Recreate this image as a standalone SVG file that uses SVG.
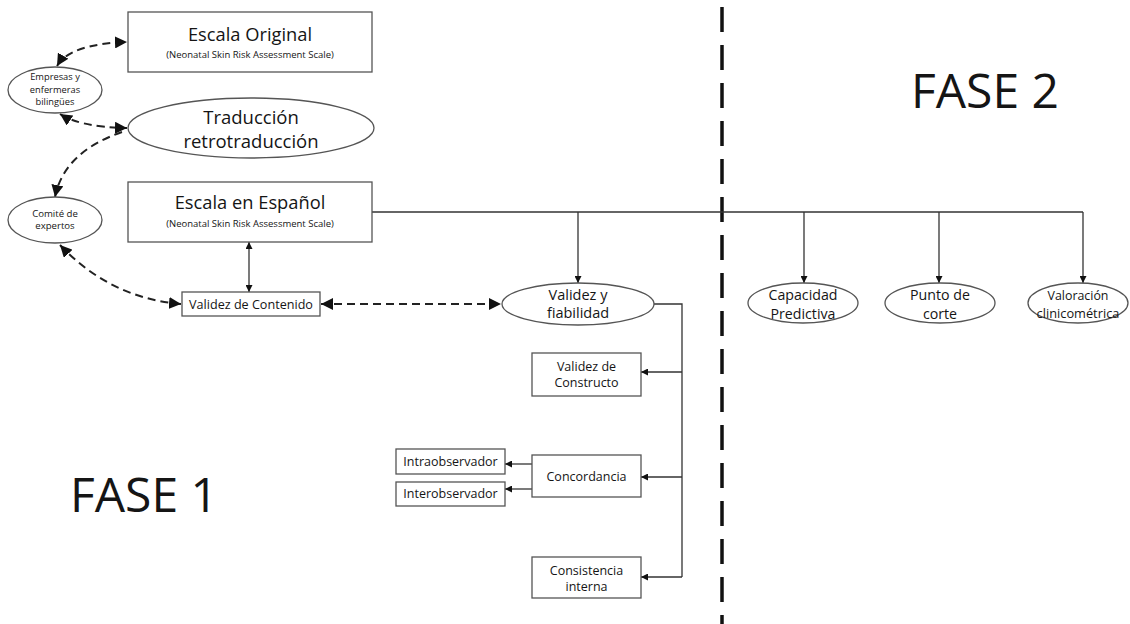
<svg xmlns="http://www.w3.org/2000/svg" width="1130" height="624" viewBox="0 0 1130 624">
<style>
.box{fill:#fff;stroke:#555;stroke-width:1.3}
.t{font-family:"Open Sans","Noto Sans",sans-serif;fill:#151515;text-anchor:middle}
.sol{fill:none;stroke:#333;stroke-width:1.3}
.dash{fill:none;stroke:#222;stroke-width:2;stroke-dasharray:8 5}
</style>
<defs>
<marker id="ah" viewBox="0 0 10 10" refX="10" refY="5" markerWidth="7" markerHeight="7" markerUnits="userSpaceOnUse" orient="auto-start-reverse">
<path d="M0,0 L10,5 L0,10 z" fill="#111"/>
</marker>
<marker id="ahd" viewBox="0 0 10 10" refX="10" refY="5" markerWidth="6" markerHeight="6" orient="auto-start-reverse">
<path d="M0,0 L10,5 L0,10 z" fill="#111"/>
</marker>
</defs>
<rect width="1130" height="624" fill="#fff"/>
<line x1="722" y1="7" x2="722" y2="624" stroke="#111" stroke-width="3.5" stroke-dasharray="25 13"/>
<g id="connectors">
<path class="sol" d="M372 212 H1083"/>
<path class="sol" d="M578 212 V283" marker-end="url(#ah)"/>
<path class="sol" d="M804 212 V283" marker-end="url(#ah)"/>
<path class="sol" d="M939 212 V283" marker-end="url(#ah)"/>
<path class="sol" d="M1083 212 V283" marker-end="url(#ah)"/>
<path class="sol" d="M249 242 V292" marker-start="url(#ah)" marker-end="url(#ah)"/>
<path class="sol" d="M654 304 H682 V577"/>
<path class="sol" d="M682 372 H641" marker-end="url(#ah)"/>
<path class="sol" d="M682 477 H641" marker-end="url(#ah)"/>
<path class="sol" d="M682 577 H641" marker-end="url(#ah)"/>
<path class="sol" d="M532 464 H505" marker-end="url(#ah)"/>
<path class="sol" d="M532 489 H505" marker-end="url(#ah)"/>
<path class="dash" d="M57 66 Q70 44 127 42" marker-start="url(#ahd)" marker-end="url(#ahd)"/>
<path class="dash" d="M60 114 Q80 127 127 128" marker-start="url(#ahd)" marker-end="url(#ahd)"/>
<path class="dash" d="M122 132 Q64 152 55 197" marker-end="url(#ahd)"/>
<path class="dash" d="M60 245 Q110 298 181 304" marker-start="url(#ahd)" marker-end="url(#ahd)"/>
<path class="dash" d="M321 304 H501" marker-start="url(#ahd)" marker-end="url(#ahd)"/>
</g>
<g id="escala-original">
<rect class="box" x="128" y="12" width="244" height="60"/>
<text class="t" x="250" y="41" font-size="18.3">Escala Original</text>
<text class="t" x="250" y="58" font-size="9.5">(Neonatal Skin Risk Assessment Scale)</text>
</g>
<g id="empresas">
<ellipse class="box" cx="55" cy="90" rx="47" ry="23"/>
<text class="t" x="55" y="80" font-size="9.3">Empresas y</text>
<text class="t" x="55" y="93" font-size="9.3">enfermeras</text>
<text class="t" x="55" y="105" font-size="9.3">bilingües</text>
</g>
<g id="traduccion">
<ellipse class="box" cx="251" cy="128" rx="123" ry="30"/>
<text class="t" x="251" y="124" font-size="18.5">Traducción</text>
<text class="t" x="251" y="148" font-size="18.5">retrotraducción</text>
</g>
<g id="comite">
<ellipse class="box" cx="55" cy="220" rx="47" ry="23"/>
<text class="t" x="55" y="217" font-size="9.6">Comité de</text>
<text class="t" x="55" y="229" font-size="9.6">expertos</text>
</g>
<g id="escala-espanol">
<rect class="box" x="128" y="182" width="244" height="60"/>
<text class="t" x="250" y="209" font-size="18.3">Escala en Español</text>
<text class="t" x="250" y="227" font-size="9.5">(Neonatal Skin Risk Assessment Scale)</text>
</g>
<g id="validez-contenido">
<rect class="box" x="182" y="292" width="138" height="24"/>
<text class="t" x="251" y="309" font-size="12.6">Validez de Contenido</text>
</g>
<g id="validez-fiabilidad">
<ellipse class="box" cx="578" cy="304" rx="76" ry="21"/>
<text class="t" x="578" y="300" font-size="14.5">Validez y</text>
<text class="t" x="578" y="318" font-size="14.5">fiabilidad</text>
</g>
<g id="capacidad">
<ellipse class="box" cx="803" cy="303" rx="55" ry="20"/>
<text class="t" x="803" y="300" font-size="14.2">Capacidad</text>
<text class="t" x="803" y="319" font-size="14.2">Predictiva</text>
</g>
<g id="punto">
<ellipse class="box" cx="940" cy="303" rx="55" ry="20"/>
<text class="t" x="940" y="300" font-size="14.2">Punto de</text>
<text class="t" x="940" y="319" font-size="14.2">corte</text>
</g>
<g id="valoracion">
<ellipse class="box" cx="1078" cy="303" rx="50" ry="20"/>
<text class="t" x="1078" y="300" font-size="12.4">Valoración</text>
<text class="t" x="1078" y="318" font-size="12.8">clinicométrica</text>
</g>
<g id="constructo">
<rect class="box" x="532" y="353" width="109" height="43"/>
<text class="t" x="586.5" y="371" font-size="12.5">Validez de</text>
<text class="t" x="586.5" y="387" font-size="12.5">Constructo</text>
</g>
<g id="concordancia">
<rect class="box" x="532" y="455" width="109" height="42"/>
<text class="t" x="586.5" y="481" font-size="12.5">Concordancia</text>
</g>
<g id="intra">
<rect class="box" x="396" y="449" width="109" height="25"/>
<text class="t" x="450.5" y="466" font-size="12.5">Intraobservador</text>
</g>
<g id="inter">
<rect class="box" x="396" y="482" width="109" height="24"/>
<text class="t" x="450.5" y="498" font-size="12.5">Interobservador</text>
</g>
<g id="consistencia">
<rect class="box" x="532" y="557" width="109" height="41"/>
<text class="t" x="586.5" y="575" font-size="12.5">Consistencia</text>
<text class="t" x="586.5" y="591" font-size="12.5">interna</text>
</g>
<text class="t" x="144" y="512" font-size="48">FASE 1</text>
<text class="t" x="985" y="108" font-size="48">FASE 2</text>
</svg>
